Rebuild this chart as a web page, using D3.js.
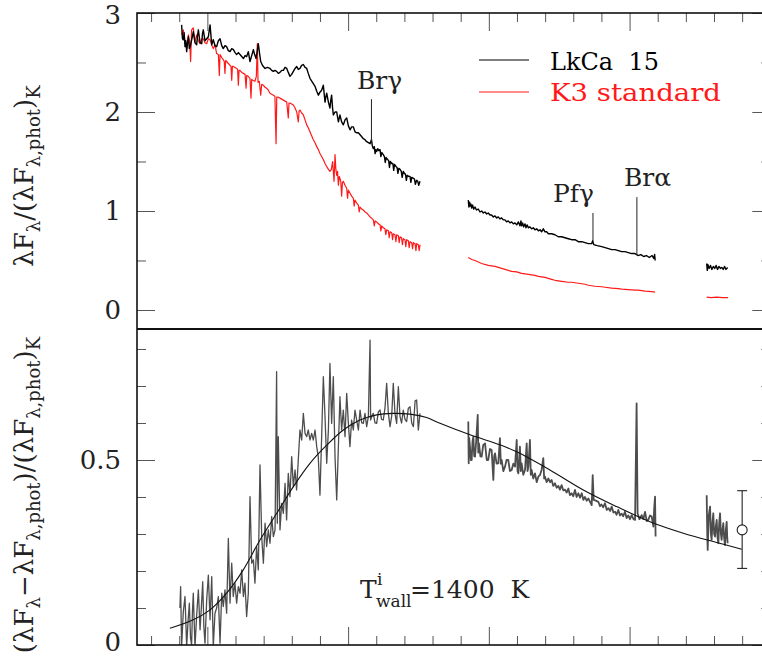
<!DOCTYPE html>
<html>
<head>
<meta charset="utf-8">
<script src="https://d3js.org/d3.v7.min.js"></script>
<style>
body { margin: 0; background: #fff; }
svg text { font-family: "DejaVu Serif", serif; }
</style>
</head>
<body>
<svg id="chart" width="762" height="658"></svg>
<script>
// wavelength (micron), value

// top panel: LkCa 15 (black), three pieces
const lkcaSeg1 = [[0.817,2.88],[0.823,2.74],[0.829,2.73],[0.835,2.80],[0.841,2.66],[0.847,2.72],[0.853,2.61],[0.859,2.70],[0.865,2.76],[0.872,2.64],[0.881,2.68],[0.890,2.74],[0.900,2.81],[0.912,2.70],[0.924,2.68],[0.930,2.77],[0.936,2.83],[0.948,2.70],[0.960,2.69],[0.965,2.79],[0.971,2.83],[0.983,2.72],[0.995,2.74],[1.007,2.76],[1.019,2.88],[1.031,2.68],[1.042,2.73],[1.054,2.67],[1.066,2.66],[1.078,2.72],[1.090,2.74],[1.102,2.67],[1.113,2.64],[1.125,2.67],[1.137,2.66],[1.149,2.62],[1.161,2.61],[1.173,2.64],[1.185,2.63],[1.197,2.60],[1.208,2.58],[1.220,2.60],[1.232,2.58],[1.244,2.56],[1.256,2.54],[1.268,2.57],[1.279,2.56],[1.291,2.61],[1.303,2.51],[1.315,2.57],[1.327,2.63],[1.336,2.58],[1.346,2.54],[1.355,2.62],[1.362,2.69],[1.370,2.60],[1.379,2.51],[1.392,2.47],[1.410,2.44],[1.427,2.45],[1.445,2.44],[1.457,2.42],[1.469,2.41],[1.480,2.42],[1.492,2.41],[1.504,2.39],[1.516,2.40],[1.528,2.42],[1.540,2.42],[1.552,2.45],[1.564,2.44],[1.575,2.40],[1.587,2.36],[1.599,2.38],[1.611,2.41],[1.623,2.44],[1.635,2.46],[1.646,2.43],[1.658,2.44],[1.670,2.47],[1.682,2.48],[1.694,2.45],[1.706,2.44],[1.717,2.39],[1.729,2.34],[1.747,2.30],[1.765,2.26],[1.777,2.21],[1.789,2.17],[1.800,2.20],[1.812,2.22],[1.824,2.27],[1.836,2.10],[1.842,2.15],[1.848,2.19],[1.860,2.10],[1.871,2.04],[1.877,2.12],[1.883,2.17],[1.889,2.05],[1.895,1.97],[1.907,2.00],[1.919,2.00],[1.931,1.90],[1.942,1.97],[1.954,1.90],[1.966,1.87],[1.978,1.92],[1.990,1.94],[2.002,1.86],[2.014,1.82],[2.025,1.85],[2.037,1.85],[2.049,1.80],[2.061,1.79],[2.073,1.79],[2.085,1.77],[2.097,1.75],[2.108,1.73],[2.120,1.72],[2.132,1.70],[2.144,1.69],[2.156,1.68],[2.166,1.72],[2.172,1.66],[2.179,1.63],[2.186,1.65],[2.192,1.58],[2.197,1.62],[2.203,1.60],[2.210,1.63],[2.218,1.61],[2.227,1.62],[2.233,1.55],[2.240,1.59],[2.250,1.57],[2.258,1.55],[2.264,1.49],[2.270,1.54],[2.280,1.52],[2.288,1.51],[2.294,1.44],[2.300,1.50],[2.310,1.48],[2.318,1.48],[2.324,1.41],[2.330,1.47],[2.340,1.45],[2.348,1.44],[2.354,1.38],[2.360,1.43],[2.369,1.42],[2.378,1.40],[2.384,1.34],[2.392,1.40],[2.400,1.38],[2.408,1.37],[2.414,1.31],[2.420,1.36],[2.430,1.35],[2.440,1.35],[2.446,1.29],[2.452,1.34],[2.464,1.33],[2.472,1.32],[2.478,1.27],[2.487,1.31],[2.495,1.30],[2.502,1.26],[2.511,1.30]];
const lkcaSeg2 = [[2.854,1.11],[2.858,1.04],[2.863,1.09],[2.868,1.05],[2.873,1.07],[2.878,1.03],[2.885,1.06],[2.892,1.02],[2.902,1.04],[2.912,1.01],[2.925,1.02],[2.937,0.99],[2.949,1.00],[2.961,0.98],[2.973,0.99],[2.985,0.97],[2.996,0.98],[3.008,0.96],[3.020,0.96],[3.032,0.94],[3.044,0.95],[3.056,0.93],[3.067,0.94],[3.079,0.92],[3.091,0.93],[3.103,0.91],[3.115,0.91],[3.126,0.89],[3.138,0.90],[3.150,0.88],[3.162,0.89],[3.174,0.87],[3.186,0.88],[3.198,0.86],[3.210,0.89],[3.221,0.85],[3.228,0.90],[3.233,0.85],[3.240,0.88],[3.247,0.84],[3.257,0.87],[3.264,0.83],[3.272,0.86],[3.281,0.83],[3.292,0.84],[3.304,0.82],[3.316,0.83],[3.328,0.81],[3.340,0.82],[3.352,0.80],[3.364,0.81],[3.375,0.79],[3.387,0.82],[3.399,0.79],[3.411,0.79],[3.423,0.77],[3.446,0.77],[3.470,0.76],[3.494,0.74],[3.517,0.74],[3.541,0.73],[3.565,0.72],[3.588,0.71],[3.612,0.71],[3.636,0.69],[3.660,0.69],[3.683,0.68],[3.707,0.67],[3.730,0.67],[3.738,0.70],[3.745,0.66],[3.770,0.65],[3.802,0.64],[3.826,0.63],[3.850,0.62],[3.873,0.61],[3.897,0.61],[3.920,0.60],[3.944,0.59],[3.967,0.59],[3.991,0.58],[4.015,0.57],[4.038,0.57],[4.050,0.56],[4.060,0.55],[4.080,0.56],[4.100,0.54],[4.120,0.55],[4.140,0.53],[4.160,0.55],[4.172,0.52],[4.178,0.56],[4.182,0.50]];
const lkcaSeg3 = [[4.548,0.47],[4.552,0.40],[4.556,0.46],[4.565,0.42],[4.575,0.45],[4.585,0.41],[4.595,0.44],[4.605,0.42],[4.615,0.45],[4.625,0.41],[4.635,0.44],[4.645,0.42],[4.655,0.43],[4.665,0.41],[4.675,0.44],[4.685,0.41],[4.697,0.43]];

// top panel: K3 standard (red)
const k3Seg1 = [[0.817,2.78],[0.829,2.83],[0.841,2.71],[0.853,2.64],[0.865,2.78],[0.875,2.70],[0.881,2.51],[0.888,2.83],[0.900,2.85],[0.912,2.71],[0.924,2.78],[0.936,2.72],[0.948,2.69],[0.960,2.74],[0.971,2.74],[0.983,2.70],[0.995,2.69],[1.007,2.74],[1.019,2.73],[1.030,2.68],[1.042,2.64],[1.054,2.68],[1.066,2.59],[1.078,2.58],[1.085,2.37],[1.090,2.58],[1.102,2.55],[1.113,2.53],[1.120,2.51],[1.125,2.39],[1.130,2.52],[1.137,2.51],[1.149,2.49],[1.161,2.47],[1.168,2.46],[1.173,2.32],[1.178,2.46],[1.185,2.46],[1.197,2.45],[1.208,2.44],[1.215,2.43],[1.220,2.27],[1.225,2.42],[1.232,2.42],[1.244,2.40],[1.256,2.39],[1.268,2.38],[1.275,2.24],[1.280,2.37],[1.290,2.36],[1.303,2.34],[1.310,2.14],[1.315,2.33],[1.322,2.32],[1.338,2.31],[1.348,2.36],[1.355,2.69],[1.360,2.30],[1.369,2.31],[1.379,2.17],[1.386,2.28],[1.398,2.27],[1.410,2.25],[1.421,2.24],[1.433,2.22],[1.445,2.19],[1.457,2.18],[1.469,2.17],[1.480,2.16],[1.488,1.68],[1.493,2.15],[1.504,2.15],[1.516,2.14],[1.528,2.13],[1.540,2.12],[1.552,2.11],[1.564,2.10],[1.575,1.94],[1.580,2.09],[1.587,2.09],[1.599,2.08],[1.611,2.07],[1.623,2.04],[1.635,2.00],[1.646,1.90],[1.652,2.01],[1.658,2.02],[1.670,1.99],[1.682,1.97],[1.694,1.92],[1.706,1.87],[1.717,1.84],[1.729,1.80],[1.741,1.76],[1.753,1.72],[1.765,1.69],[1.777,1.65],[1.789,1.62],[1.800,1.58],[1.812,1.55],[1.824,1.52],[1.836,1.48],[1.848,1.45],[1.860,1.42],[1.871,1.40],[1.881,1.42],[1.890,1.50],[1.900,1.30],[1.907,1.57],[1.913,1.42],[1.919,1.36],[1.925,1.40],[1.931,1.26],[1.937,1.35],[1.942,1.33],[1.948,1.30],[1.954,1.15],[1.960,1.29],[1.966,1.30],[1.978,1.26],[1.990,1.23],[1.996,1.13],[2.002,1.21],[2.014,1.18],[2.025,1.15],[2.037,1.13],[2.043,1.05],[2.049,1.11],[2.061,1.08],[2.073,1.06],[2.079,0.99],[2.085,1.04],[2.097,1.02],[2.108,1.01],[2.120,0.99],[2.132,0.98],[2.144,0.96],[2.156,0.94],[2.166,0.93],[2.172,0.92],[2.179,0.91],[2.186,0.85],[2.192,0.90],[2.203,0.89],[2.215,0.87],[2.227,0.86],[2.233,0.80],[2.239,0.85],[2.250,0.83],[2.262,0.82],[2.268,0.76],[2.274,0.81],[2.286,0.80],[2.292,0.73],[2.298,0.79],[2.310,0.78],[2.316,0.71],[2.321,0.77],[2.333,0.76],[2.340,0.69],[2.345,0.76],[2.357,0.75],[2.363,0.68],[2.369,0.74],[2.380,0.73],[2.386,0.66],[2.392,0.72],[2.404,0.71],[2.410,0.64],[2.416,0.71],[2.428,0.70],[2.434,0.63],[2.440,0.69],[2.452,0.68],[2.458,0.62],[2.464,0.68],[2.476,0.67],[2.482,0.60],[2.487,0.67],[2.499,0.66],[2.505,0.60],[2.511,0.66]];
const k3Seg2 = [[2.854,0.53],[2.878,0.51],[2.902,0.50],[2.949,0.47],[2.996,0.45],[3.044,0.44],[3.091,0.42],[3.115,0.41],[3.162,0.39],[3.198,0.385],[3.233,0.37],[3.281,0.36],[3.328,0.35],[3.352,0.34],[3.399,0.33],[3.446,0.31],[3.470,0.30],[3.517,0.29],[3.565,0.28],[3.588,0.28],[3.636,0.27],[3.683,0.26],[3.707,0.25],[3.754,0.24],[3.802,0.235],[3.825,0.23],[3.873,0.22],[3.920,0.215],[3.944,0.21],[3.991,0.205],[4.038,0.20],[4.062,0.20],[4.110,0.19],[4.157,0.185],[4.181,0.18]];
const k3Seg3 = [[4.548,0.13],[4.580,0.125],[4.620,0.13],[4.660,0.125],[4.700,0.125]];

// bottom panel: excess over the photosphere (gray)
const excessSeg1 = [[0.805,0.10],[0.810,0.158],[0.817,-0.004],[0.829,0.09],[0.841,0.131],[0.853,-0.004],[0.862,0.06],[0.872,0.113],[0.880,0.02],[0.888,0.0],[0.894,0.09],[0.900,0.140],[0.912,-0.004],[0.924,0.08],[0.936,0.149],[0.948,0.041],[0.957,0.10],[0.967,0.171],[0.975,0.05],[0.983,0.005],[0.995,0.12],[1.007,0.189],[1.019,0.068],[1.031,0.185],[1.042,-0.004],[1.054,0.086],[1.066,0.10],[1.078,0.131],[1.090,0.005],[1.102,0.140],[1.113,0.104],[1.125,0.149],[1.137,0.086],[1.149,0.288],[1.161,0.113],[1.173,0.221],[1.184,0.131],[1.196,0.167],[1.208,0.113],[1.220,0.158],[1.232,0.140],[1.244,0.203],[1.256,0.131],[1.267,0.167],[1.279,0.077],[1.291,0.140],[1.303,0.401],[1.315,0.221],[1.327,0.230],[1.338,0.167],[1.350,0.266],[1.362,0.203],[1.374,0.487],[1.386,0.293],[1.398,0.221],[1.410,0.329],[1.421,0.266],[1.433,0.311],[1.445,0.275],[1.457,0.347],[1.469,0.293],[1.481,0.311],[1.492,0.739],[1.497,0.329],[1.504,0.563],[1.516,0.311],[1.528,0.383],[1.540,0.356],[1.552,0.437],[1.563,0.338],[1.575,0.464],[1.587,0.401],[1.599,0.509],[1.611,0.428],[1.623,0.473],[1.634,0.419],[1.646,0.500],[1.658,0.581],[1.670,0.554],[1.682,0.626],[1.694,0.572],[1.706,0.563],[1.717,0.581],[1.729,0.554],[1.741,0.572],[1.753,0.554],[1.765,0.581],[1.777,0.536],[1.788,0.509],[1.800,0.405],[1.812,0.563],[1.824,0.725],[1.836,0.617],[1.848,0.491],[1.860,0.581],[1.871,0.761],[1.883,0.599],[1.895,0.725],[1.907,0.509],[1.919,0.392],[1.931,0.536],[1.942,0.671],[1.954,0.581],[1.966,0.635],[1.978,0.563],[1.990,0.680],[2.002,0.599],[2.013,0.536],[2.025,0.608],[2.037,0.581],[2.049,0.635],[2.061,0.608],[2.073,0.581],[2.085,0.635],[2.097,0.600],[2.108,0.599],[2.120,0.626],[2.132,0.590],[2.144,0.617],[2.156,0.824],[2.160,0.608],[2.170,0.620],[2.179,0.626],[2.191,0.600],[2.203,0.599],[2.215,0.630],[2.227,0.635],[2.238,0.610],[2.250,0.608],[2.262,0.640],[2.274,0.707],[2.286,0.626],[2.298,0.590],[2.310,0.620],[2.321,0.707],[2.333,0.626],[2.345,0.599],[2.357,0.698],[2.369,0.617],[2.380,0.600],[2.392,0.635],[2.404,0.610],[2.416,0.604],[2.428,0.640],[2.440,0.644],[2.452,0.600],[2.464,0.590],[2.476,0.660],[2.487,0.662],[2.499,0.581],[2.511,0.626]];
const excessSeg2 = [[2.854,0.604],[2.857,0.491],[2.860,0.560],[2.866,0.536],[2.872,0.500],[2.878,0.500],[2.884,0.550],[2.890,0.563],[2.896,0.510],[2.902,0.509],[2.910,0.550],[2.921,0.622],[2.925,0.520],[2.930,0.545],[2.940,0.510],[2.949,0.509],[2.960,0.540],[2.973,0.545],[2.985,0.500],[2.996,0.500],[3.008,0.530],[3.020,0.527],[3.032,0.446],[3.038,0.510],[3.044,0.518],[3.055,0.490],[3.067,0.491],[3.079,0.559],[3.085,0.490],[3.091,0.500],[3.103,0.470],[3.115,0.482],[3.126,0.500],[3.138,0.500],[3.150,0.470],[3.162,0.473],[3.174,0.490],[3.186,0.482],[3.198,0.554],[3.204,0.470],[3.210,0.464],[3.221,0.536],[3.227,0.470],[3.233,0.491],[3.245,0.460],[3.257,0.473],[3.269,0.545],[3.275,0.470],[3.281,0.482],[3.292,0.554],[3.298,0.460],[3.304,0.473],[3.316,0.450],[3.328,0.464],[3.340,0.440],[3.352,0.455],[3.364,0.460],[3.375,0.473],[3.387,0.505],[3.393,0.450],[3.399,0.455],[3.411,0.440],[3.423,0.450],[3.435,0.440],[3.446,0.446],[3.458,0.430],[3.470,0.437],[3.482,0.425],[3.494,0.430],[3.505,0.420],[3.517,0.432],[3.529,0.418],[3.541,0.420],[3.553,0.412],[3.565,0.423],[3.576,0.405],[3.588,0.410],[3.600,0.402],[3.612,0.419],[3.624,0.400],[3.636,0.410],[3.648,0.398],[3.660,0.410],[3.672,0.392],[3.683,0.400],[3.695,0.390],[3.707,0.396],[3.731,0.378],[3.738,0.459],[3.745,0.392],[3.760,0.390],[3.778,0.387],[3.790,0.375],[3.800,0.380],[3.812,0.372],[3.825,0.383],[3.838,0.365],[3.850,0.370],[3.862,0.362],[3.873,0.374],[3.885,0.358],[3.897,0.360],[3.908,0.352],[3.920,0.365],[3.932,0.350],[3.944,0.355],[3.955,0.348],[3.967,0.360],[3.979,0.343],[3.991,0.350],[4.003,0.340],[4.015,0.351],[4.028,0.340],[4.039,0.338],[4.050,0.653],[4.057,0.356],[4.070,0.340],[4.086,0.351],[4.098,0.340],[4.110,0.360],[4.122,0.335],[4.133,0.338],[4.145,0.350],[4.157,0.347],[4.169,0.320],[4.175,0.370],[4.181,0.401],[4.185,0.293]];
const excessSeg3 = [[4.548,0.405],[4.552,0.300],[4.555,0.257],[4.563,0.350],[4.572,0.374],[4.578,0.300],[4.583,0.284],[4.589,0.330],[4.595,0.356],[4.601,0.300],[4.607,0.293],[4.613,0.320],[4.619,0.338],[4.625,0.290],[4.631,0.275],[4.637,0.330],[4.643,0.356],[4.649,0.300],[4.654,0.284],[4.660,0.310],[4.666,0.329],[4.672,0.290],[4.678,0.270],[4.684,0.310],[4.690,0.333],[4.694,0.290],[4.697,0.275]];

// 1400 K wall model
const wallModel = [[0.734,0.045],[0.900,0.068],[1.019,0.095],[1.137,0.140],[1.255,0.203],[1.374,0.284],[1.493,0.356],[1.611,0.428],[1.729,0.491],[1.848,0.540],[1.966,0.581],[2.084,0.608],[2.203,0.622],[2.321,0.626],[2.440,0.624],[2.558,0.615],[2.653,0.599],[2.866,0.568],[3.079,0.541],[3.198,0.522],[3.434,0.473],[3.671,0.419],[3.908,0.374],[4.145,0.333],[4.382,0.302],[4.619,0.277],[4.797,0.259]];

// photometric point with error bar: wavelength, value, low, high
const photPoint = [4.80, 0.311, 0.207, 0.417];

// line markers: name, wavelength, top and bottom of tick (top panel units)
const lineNames = ["Br\u03b3", "Pf\u03b3", "Br\u03b1"];
const lineWaves = [2.166, 3.740, 4.052];
const lineTops = [2.13, 0.98, 1.14];
const lineBottoms = [1.69, 0.70, 0.56];
const labelWaves = [2.063, 3.456, 3.960];
const labelVals = [2.232, 1.091, 1.253];

const topTicks = [0, 1, 2, 3];
const bottomTicks = [0, 0.5];

// scales
const x = d3.scaleLinear().domain([0.5, 5.0]).range([137, 770.3]);
const yTop = d3.scaleLinear().domain([-0.192, 3]).range([329, 13]);
const yBot = d3.scaleLinear().domain([0, 0.854]).range([645, 329]);

const svg = d3.select("#chart");

// clip each panel so the noisy bits stay inside
const defs = svg.append("defs");
defs.append("clipPath").attr("id", "clipTop").append("rect")
    .attr("x", 137).attr("y", 13).attr("width", 634).attr("height", 316);
defs.append("clipPath").attr("id", "clipBot").append("rect")
    .attr("x", 137).attr("y", 329).attr("width", 634).attr("height", 316);

// minor tick positions
let xMinor = d3.range(0.6, 5.0, 0.2).filter(v => Math.abs(v - Math.round(v)) > 1e-6);
let topMinor = [0.5, 1.5, 2.5];
let botMinor = [0.1, 0.2, 0.3, 0.4, 0.6, 0.7, 0.8];

function addAxis(axisFn, scale, values, size, translate, labelled) {
    let ax = axisFn(scale).tickValues(values).tickSize(-size).tickSizeOuter(0).tickPadding(16);
    ax.tickFormat(labelled ? (d => String(d)) : "");
    let g = svg.append("g").attr("transform", translate).call(ax);
    g.select(".domain").remove();
    g.selectAll(".tick line").attr("stroke", "#555").attr("stroke-width", 1);
    g.selectAll(".tick text")
        .attr("fill", "#222")
        .attr("font-size", 26)
        .attr("font-family", "'Liberation Sans', Arial, sans-serif");
    return g;
}

// x ticks: top of upper panel, bottom of lower panel
addAxis(d3.axisTop, x, [1, 2, 3, 4, 5], 18, "translate(0,13)", false);
addAxis(d3.axisTop, x, xMinor, 9, "translate(0,13)", false);
addAxis(d3.axisBottom, x, [1, 2, 3, 4, 5], 18, "translate(0,645)", false);
addAxis(d3.axisBottom, x, xMinor, 9, "translate(0,645)", false);

// y ticks, both sides
let topLab = addAxis(d3.axisLeft, yTop, topTicks, 18, "translate(137,0)", true);
addAxis(d3.axisLeft, yTop, topMinor, 9, "translate(137,0)", false);
addAxis(d3.axisRight, yTop, topTicks, 18, "translate(770.3,0)", false);
addAxis(d3.axisRight, yTop, topMinor, 9, "translate(770.3,0)", false);
let botLab = addAxis(d3.axisLeft, yBot, bottomTicks, 18, "translate(137,0)", true);
addAxis(d3.axisLeft, yBot, botMinor, 9, "translate(137,0)", false);
addAxis(d3.axisRight, yBot, bottomTicks, 18, "translate(770.3,0)", false);
addAxis(d3.axisRight, yBot, botMinor, 9, "translate(770.3,0)", false);

// keep the end labels inside the picture
topLab.selectAll(".tick text").filter(d => d == 3).attr("dy", "0.42em");
botLab.selectAll(".tick text").filter(d => d == 0).attr("dy", "0.2em");

function drawLine(clip, data, yScale, color, width, curve) {
    let line = d3.line().x(d => x(d[0])).y(d => yScale(d[1]));
    if (curve) line.curve(curve);
    svg.append("path")
        .datum(data)
        .attr("clip-path", "url(#" + clip + ")")
        .attr("d", line)
        .attr("fill", "none")
        .attr("stroke", color)
        .attr("stroke-width", width)
        .attr("stroke-linejoin", "round");
}

// top panel spectra
for (let seg of [k3Seg1, k3Seg2, k3Seg3]) drawLine("clipTop", seg, yTop, "#ff1a1a", 1.2);
for (let seg of [lkcaSeg1, lkcaSeg2, lkcaSeg3]) drawLine("clipTop", seg, yTop, "#000", 1.4);

// line markers and names
lineNames.forEach((name, i) => {
    svg.append("line")
        .attr("x1", x(lineWaves[i])).attr("x2", x(lineWaves[i]))
        .attr("y1", yTop(lineTops[i])).attr("y2", yTop(lineBottoms[i]))
        .attr("stroke", "#222").attr("stroke-width", 1);
    svg.append("text")
        .attr("x", x(labelWaves[i])).attr("y", yTop(labelVals[i]))
        .attr("font-size", 25).attr("fill", "#222")
        .text(name);
});

// legend
let legend = [["LkCa  15", "#000"], ["K3 standard", "#ff1a1a"]];
legend.forEach((l, i) => {
    svg.append("line")
        .attr("x1", 479).attr("x2", 529)
        .attr("y1", 60 + i * 32).attr("y2", 60 + i * 32)
        .attr("stroke", l[1]).attr("stroke-width", 1.2);
    svg.append("text")
        .attr("x", 550).attr("y", 70 + i * 31)
        .attr("font-size", 25).attr("fill", l[1])
        .style("white-space", "pre")
        .attr("textLength", i == 0 ? 109 : 171)
        .attr("lengthAdjust", "spacingAndGlyphs")
        .text(l[0]);
});

// bottom panel
drawLine("clipBot", excessSeg1, yBot, "#4d4d4d", 1.3);
drawLine("clipBot", excessSeg2, yBot, "#4d4d4d", 1.8);
drawLine("clipBot", excessSeg3, yBot, "#4d4d4d", 1.8);
drawLine("clipBot", wallModel, yBot, "#111", 1.1, d3.curveCatmullRom);

// photometric point
let px = x(photPoint[0]);
svg.append("line").attr("x1", px).attr("x2", px)
    .attr("y1", yBot(photPoint[2])).attr("y2", yBot(photPoint[3]))
    .attr("stroke", "#222").attr("stroke-width", 1.1);
for (let v of [photPoint[2], photPoint[3]]) {
    svg.append("line").attr("x1", px - 5).attr("x2", px + 5)
        .attr("y1", yBot(v)).attr("y2", yBot(v))
        .attr("stroke", "#222").attr("stroke-width", 1.1);
}
svg.append("circle").attr("cx", px).attr("cy", yBot(photPoint[1])).attr("r", 5)
    .attr("fill", "#fff").attr("stroke", "#222").attr("stroke-width", 1.1);

// temperature label
svg.append("text").attr("x", 360).attr("y", 598).attr("font-size", 25).attr("fill", "#222").text("T");
svg.append("text").attr("x", 377).attr("y", 585).attr("font-size", 17).attr("fill", "#222").text("i");
svg.append("text").attr("x", 376).attr("y", 607).attr("font-size", 17).attr("fill", "#222").text("wall");
svg.append("text").attr("x", 410).attr("y", 598).attr("font-size", 25).attr("fill", "#222")
    .style("white-space", "pre").text("=1400  K");

// frame
svg.append("rect").attr("x", 137).attr("y", 13).attr("width", 633.3).attr("height", 632)
    .attr("fill", "none").attr("stroke", "#111").attr("stroke-width", 1.6);
svg.append("line").attr("x1", 137).attr("x2", 771).attr("y1", 329).attr("y2", 329)
    .attr("stroke", "#111").attr("stroke-width", 2.2);

// y labels with subscripts
function richLabel(cx, cy, parts) {
    let t = svg.append("text")
        .attr("transform", "translate(" + cx + "," + cy + ") rotate(-90)")
        .attr("text-anchor", "middle")
        .attr("fill", "#222");
    let prevSub = false;
    for (let p of parts) {
        let sub = p[1] === "sub";
        let s = t.append("tspan").text(p[0]).attr("font-size", sub ? 18 : 26);
        if (sub && !prevSub) s.attr("dy", 7);
        if (!sub && prevSub) s.attr("dy", -7);
        prevSub = sub;
    }
}

richLabel(33, 176, [["\u03bbF"], ["\u03bb", "sub"], ["/(\u03bbF"], ["\u03bb,phot", "sub"], [")"], ["K", "sub"]]);
richLabel(33, 495, [["(\u03bbF"], ["\u03bb", "sub"], ["\u2212\u03bbF"], ["\u03bb,phot", "sub"], [")/(\u03bbF"], ["\u03bb,phot", "sub"], [")"], ["K", "sub"]]);
</script>
</body>
</html>
